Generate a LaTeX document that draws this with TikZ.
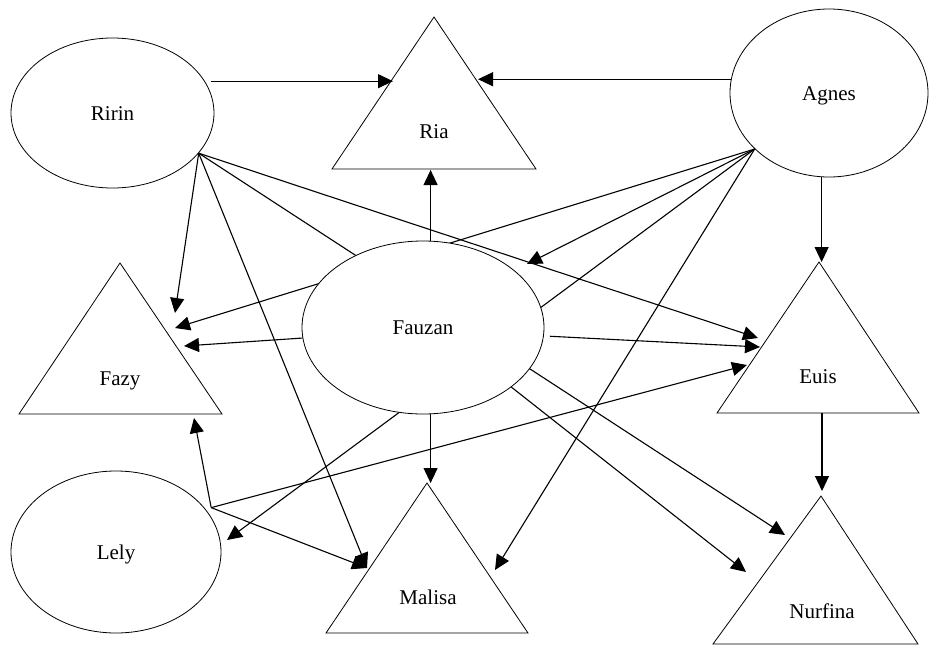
\documentclass[tikz,border=0pt]{standalone}
\usepackage{fontspec}
\setmainfont{Liberation Serif}
\usetikzlibrary{arrows.meta,shapes.geometric,backgrounds,calc}
\begin{document}
\begin{tikzpicture}[x=1pt,y=-1pt,
  every node/.style={font=\fontsize{21}{24}\selectfont},
  oval/.style={draw,ellipse,line width=0.8pt,inner sep=0pt,text height=14pt,text depth=0pt},
  tri/.style={draw,line width=0.8pt,line join=miter},
  lbl/.style={anchor=base,inner sep=0pt},
  conn/.style={line width=1.1pt,-{Triangle[length=15pt,width=14pt]}}]
\useasboundingbox (0,0) rectangle (930,646);

% ellipses (actors)
\node[oval,minimum width=203pt,minimum height=150pt] (Ririn) at (112.5,113) {Ririn};
\node[oval,minimum width=198pt,minimum height=168pt] (Agnes) at (829,93) {Agnes};
\node[oval,minimum width=210pt,minimum height=162pt] (Lely) at (116,552) {Lely};
\node[oval,fill=white,minimum width=242pt,minimum height=173pt] (Fauzan) at (423,327.5) {Fauzan};

% triangles
\draw[tri] (434,17) -- (332,169) -- (536,169) -- cycle;
\draw[tri] (120,263) -- (19,414) -- (222,414) -- cycle;
\draw[tri] (819,262) -- (717,413) -- (919,413) -- cycle;
\draw[tri] (427,483) -- (326,633) -- (528,633) -- cycle;
\draw[tri] (821,496) -- (713,644) -- (918,644) -- cycle;

\node[lbl] (Ria) at (434,138) {Ria};
\node[lbl] (Fazy) at (120,385) {Fazy};
\node[lbl] (Euis) at (818,383) {Euis};
\node[lbl] (Malisa) at (428,604) {Malisa};
\node[lbl] (Nurfina) at (822,618) {Nurfina};

% ports on triangles
\coordinate (riaW) at (393,80);
\coordinate (riaE) at (478,80);
\coordinate (riaS) at (431,170);
\coordinate (fazyA) at (175,313);
\coordinate (fazyB) at (175,328);
\coordinate (fazyC) at (184,346);
\coordinate (fazyD) at (194,418);
\coordinate (euisA) at (821,262);
\coordinate (euisB) at (758,338);
\coordinate (euisC) at (760,347);
\coordinate (euisD) at (747,365);
\coordinate (euisS) at (822,413);
\coordinate (malA) at (431,483);
\coordinate (malW) at (367,568);
\coordinate (malE) at (495,570);
\coordinate (nurA) at (822,491);
\coordinate (nurB) at (785,535);
\coordinate (nurC) at (746,572);
\coordinate (lelyE) at (227,540);
\coordinate (fauNE) at (527,264);
% common start of Lely's connectors, just outside its border
\coordinate (lelyO) at ($(Lely.center)!1.055!(Lely.25.6)$);

\begin{scope}[on background layer]
  % Ririn
  \draw[conn,shorten <=6pt] (Ririn.19.9) -- (Ririn.19.9 -| riaW);
  \draw[conn] (Ririn.-25.6) -- (fazyA);
  \draw[conn] (Ririn.-25.6) -- (malW);
  \draw[conn] (Ririn.-25.6) -- (euisB);
  \draw[conn] (Ririn.-25.6) -- (nurB);
  % Agnes
  \draw[conn] (Agnes.172.4) -- (Agnes.172.4 -| riaE);
  \draw[conn] (Agnes.-95.4) -- (Agnes.-95.4 |- euisA);
  \draw[conn] (Agnes.217.6) -- (fazyB);
  \draw[conn] (Agnes.217.6) -- (fauNE);
  \draw[conn] (Agnes.217.6) -- (lelyE);
  \draw[conn] (Agnes.217.6) -- (malE);
  % Fauzan
  \draw[conn] (Fauzan.85) -- (Fauzan.85 |- riaS);
  \draw[conn] (Fauzan.185) -- (fazyC);
  \draw[conn,shorten <=6pt] (Fauzan.-4.7) -- (euisC);
  \draw[conn] (Fauzan.-85) -- (Fauzan.-85 |- malA);
  \draw[conn] (Fauzan.-34.8) -- (nurC);
  % Lely
  \draw[conn] (lelyO) -- (fazyD);
  \draw[conn] (lelyO) -- (malW);
  \draw[conn] (lelyO) -- (euisD);
  % Euis
  \draw[conn] (euisS) -- (euisS |- nurA);
\end{scope}
\end{tikzpicture}
\end{document}
